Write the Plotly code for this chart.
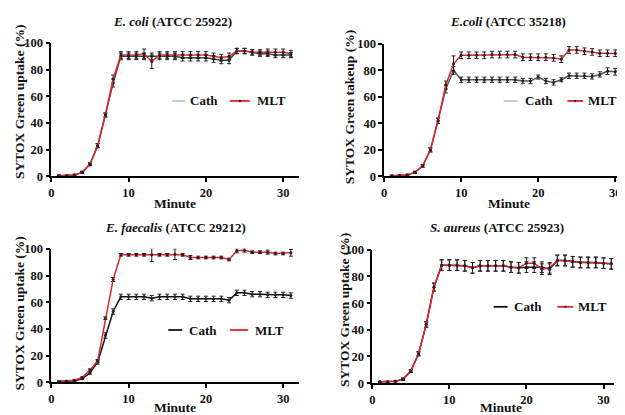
import plotly.graph_objects as go

W, H = 625, 415
minutes = list(range(1, 32))

# Panel 1: E. coli (ATCC 25922)
p1_cath = [0.5,0.5,1,3,9,23,46,70,90,90,90,90,90,90,90,90,89,89,89,89,88,87,87,94,94,93,92,92,91,91,91]
p1_cath_err = [0.3,0.3,0.5,0.8,1,1.5,1.5,3,2.5,2.5,2.5,2.5,2.5,2.5,2.5,2.5,2.5,2.5,2.5,2.5,2.5,2.5,2.5,2,2,2,2,2,2,2,2]
p1_mlt = [0.5,0.5,1,3,9,23,46,73,91,91,91,92,86,91,91,91,91,91,91,91,90,89,90,94,94,93,93,93,93,93,92]
p1_mlt_err = [0.3,0.3,0.5,0.8,1,1.5,1.5,3,2.5,2.5,2.5,3.5,5,2.5,2.5,2.5,2.5,2.5,2.5,2.5,2.5,2.5,2.5,2,2,2,2,2.5,2.5,2.5,2.5]

# Panel 2: E.coli (ATCC 35218)
p2_cath = [0.5,0.5,1,3,8,20,42,66,80,73,73,73,73,73,73,73,73,72,72,75,72,71,73,76,76,76,75.5,77,79.5,79,81.5]
p2_cath_err = [0.3,0.3,0.5,0.8,1,1.5,2,3,3,2,2,2,2,2,2,2,2,2,2,1.5,2,2,1.5,2,2,2,2,2,2.5,2.5,3.5]
p2_mlt = [0.5,0.5,1,3,8,20,42,69,85,91.5,91.5,91.5,91.5,92,92,92,92,90,90,90,90,89.5,88.5,95.5,95.5,94.5,94,93,93,93,92.5]
p2_mlt_err = [0.3,0.3,0.5,0.8,1,1.5,2,3,6,2.5,2.5,2.5,2.5,2.5,2.5,2.5,2.5,2.5,2.5,2.5,2.5,2.5,2.5,2.5,2.5,2.5,2.5,2.5,2.5,2.5,2.5]

# Panel 3: E. faecalis (ATCC 29212)
p3_cath = [0.5,0.5,1,2.5,7,15,35,53,64,64,64,64,63,64,64,64,64,62.5,62.5,62.5,62.5,62.5,61.5,67,67,66,66,65.5,65.5,65.5,65]
p3_cath_err = [0.3,0.3,0.5,0.5,1,1.5,2,2,2,2,2,2,2,2,2,2,2,2,2,2,2,2,2,2,2,2,2,2,2,2,2]
p3_mlt = [0.5,0.8,1.5,3.5,9,16,48,77,95.5,95.5,95.5,95.5,95.5,95.5,95.5,96,95.5,93.5,93.5,93.5,93.5,93.5,92,98.5,99,97.5,97.5,97.5,96.5,96.5,97]
p3_mlt_err = [0.3,0.3,0.5,0.5,1,1,1,1.5,1,1,1,1,5,1,1,4,1,1.5,1,1,1,1,1,1.5,1.5,1,1,1.5,1,1,2.5]

# Panel 4: S. aureus (ATCC 25923)
p4_cath = [1,1,1.5,3,9,22,44,72,88.5,88.5,88.5,88,86.5,88,88,88,88,87,86.5,87,87,87,85.5,92,92,91,90.5,90.5,90.5,90,89.5]
p4_cath_err = [0.3,0.3,0.5,0.8,1,1.5,2,3,4,4,4,4,4,4,4,4,4,4,4,4,4,4,4,4,4,4,4,4,4,4,4]
p4_mlt = [1,1,1.5,3,9,22,44,72,88.5,88.5,88.5,88,86.5,88,88,88,88,87,86.5,90,90,85.5,86.5,92,92,91,90.5,90.5,90.5,90,89.5]
p4_mlt_err = [0.3,0.3,0.5,0.8,1,1.5,2,3,4,4,4,4,4,4,4,4,4,4,4,4,4,4,4,4,4,4,4,4,4,4,4]

titles = ["<i>E. coli</i> (ATCC 25922)", "<i>E.coli</i> (ATCC 35218)",
          "<i>E. faecalis</i> (ATCC 29212)", "<i>S. aureus</i> (ATCC 25923)"]
ytitles = ["SYTOX Green uptake (%)", "SYTOX Green takeup (%)",
           "SYTOX Green uptake (%)", "SYTOX Green uptake (%)"]
xtitle = "Minute"
legend_names = ["Cath", "MLT"]
x_ticks = [0, 10, 20, 30]
y_ticks = [0, 20, 40, 60, 80, 100]

RED = "#e3242b"
FONT = "Liberation Serif"

# panel geometry in pixels
panels = [
    dict(x0=40.5, x1=289, yt=29, yb=167, xmax=32.0,
         title=(162, 7), ytl=(9, 90), xtl=(165, 195),
         leg=dict(y=89, c=(162, 175, 178), m=(220, 240, 245)), cathleg="#c4c4c4", cathline="#444444", mdot=True),
    dict(x0=375, x1=619.5, yt=30, yb=167, xmax=31.6,
         title=(499, 7), ytl=(340, 95), xtl=(500, 195),
         leg=dict(y=89, c=(495, 509, 514), m=(559, 575, 578)), cathleg="#c4c4c4", cathline="#555555", mdot=True),
    dict(x0=40.5, x1=289, yt=242, yb=380, xmax=32.0,
         title=(165, 220), ytl=(9, 309), xtl=(165, 406),
         leg=dict(y=326, c=(158, 172, 177), m=(220, 238, 243)), cathleg="#111111", cathline="#111111", mdot=False),
    dict(x0=363, x1=605.5, yt=243, yb=381, xmax=31.3,
         title=(488, 220), ytl=(335, 305), xtl=(492, 406),
         leg=dict(y=302, c=(485, 499, 503), m=(549, 565, 568)), cathleg="#111111", cathline="#111111", mdot=True),
]
series = [(p1_cath, p1_cath_err, p1_mlt, p1_mlt_err),
          (p2_cath, p2_cath_err, p2_mlt, p2_mlt_err),
          (p3_cath, p3_cath_err, p3_mlt, p3_mlt_err),
          (p4_cath, p4_cath_err, p4_mlt, p4_mlt_err)]

def px(x):
    return x / W

def py(y):
    return 1 - y / H

fig = go.Figure()
annotations = []
shapes = []
layout = {}

for i, (p, s) in enumerate(zip(panels, series)):
    n = "" if i == 0 else str(i + 1)
    xa, ya = "x" + n, "y" + n
    cath, cath_err, mlt, mlt_err = s
    for vals, err, color in [(cath, cath_err, p["cathline"]), (mlt, mlt_err, RED)]:
        fig.add_trace(go.Scatter(
            x=minutes, y=vals, xaxis=xa, yaxis=ya, mode="lines+markers",
            line=dict(color=color, width=1.5),
            marker=dict(size=3, color="#222222"),
            error_y=dict(type="data", array=err, visible=True, color="#222222", thickness=1, width=2),
            showlegend=False, cliponaxis=False))
    layout["xaxis" + n] = dict(
        domain=[px(p["x0"]), px(p["x1"])], range=[0, p["xmax"]], anchor=ya,
        tickvals=x_ticks, ticks="outside", ticklen=4, tickwidth=1.5, tickcolor="black",
        showline=True, linecolor="black", linewidth=1.5, showgrid=False, zeroline=False,
        tickfont=dict(family=FONT, size=12.5, color="#111", weight="bold"))
    layout["yaxis" + n] = dict(
        domain=[py(p["yb"]), py(p["yt"])], range=[0, 100], anchor=xa,
        tickvals=y_ticks, ticks="outside", ticklen=4, tickwidth=1.5, tickcolor="black",
        showline=True, linecolor="black", linewidth=1.5, showgrid=False, zeroline=False,
        tickfont=dict(family=FONT, size=12.5, color="#111", weight="bold"))
    annotations.append(dict(text=titles[i], x=px(p["title"][0]), y=py(p["title"][1]),
                            xref="paper", yref="paper", showarrow=False, xanchor="center", yanchor="middle",
                            font=dict(family=FONT, size=13, color="#111", weight="bold")))
    annotations.append(dict(text=ytitles[i], x=px(p["ytl"][0]), y=py(p["ytl"][1]), textangle=-90,
                            xref="paper", yref="paper", showarrow=False, xanchor="center", yanchor="middle",
                            font=dict(family=FONT, size=13.5, color="#111", weight="bold")))
    annotations.append(dict(text=xtitle, x=px(p["xtl"][0]), y=py(p["xtl"][1]),
                            xref="paper", yref="paper", showarrow=False, xanchor="center", yanchor="middle",
                            font=dict(family=FONT, size=13.5, color="#111", weight="bold")))
    lg = p["leg"]
    for (a, b, t), name, col in [(lg["c"], legend_names[0], p["cathleg"]), (lg["m"], legend_names[1], RED)]:
        shapes.append(dict(type="line", xref="paper", yref="paper", x0=px(a), x1=px(b),
                           y0=py(lg["y"]), y1=py(lg["y"]), line=dict(color=col, width=1.8)))
        if name == "MLT" and p["mdot"]:
            cx = (a + b) / 2
            shapes.append(dict(type="circle", xref="paper", yref="paper", x0=px(cx - 1.2), x1=px(cx + 1.2),
                               y0=py(lg["y"] + 1.2), y1=py(lg["y"] - 1.2), fillcolor="#222", line=dict(width=0)))
        annotations.append(dict(text=name, x=px(t), y=py(lg["y"]), xref="paper", yref="paper",
                                showarrow=False, xanchor="left", yanchor="middle",
                                font=dict(family=FONT, size=13, color="#111", weight="bold")))

fig.update_layout(width=W, height=H, margin=dict(l=0, r=0, t=0, b=0),
                  paper_bgcolor="white", plot_bgcolor="white",
                  annotations=annotations, shapes=shapes, showlegend=False, **layout)
fig.write_html("out.html")
